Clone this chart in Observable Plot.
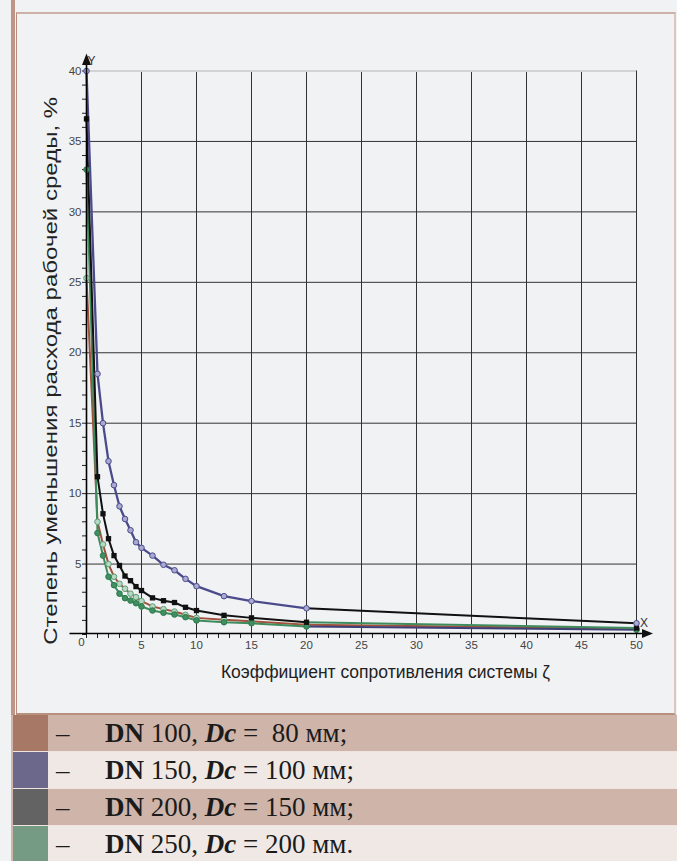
<!DOCTYPE html>
<html>
<head>
<meta charset="utf-8">
<script src="https://cdn.jsdelivr.net/npm/d3@7"></script>
<script src="https://cdn.jsdelivr.net/npm/@observablehq/plot@0.6"></script>
<style>
  html, body { margin: 0; padding: 0; }
  body { background: #f1f2f4; width: 677px; height: 861px; position: relative; overflow: hidden; }
  #bar { position: absolute; left: 11px; top: 0; width: 4px; height: 715px; background: #c09585; }
  #panel { position: absolute; left: 16px; top: 12px; width: 657px; height: 699px;
           border-left: 1px solid #b68b7b; border-top: 2px solid #cdb1a7;
           border-right: 2px solid #dcc5bd; border-bottom: 2px solid #b9917f; }
  #chart { position: absolute; left: 0; top: 0; }
  #legend { position: absolute; left: 11px; top: 715px; width: 666px;
            border-left: 2px solid #d2b6ab; box-sizing: border-box; }
  .row { height: 36px; display: flex; align-items: center; border-bottom: 1px solid #efe4e0;
         font-family: "Liberation Serif", "Times New Roman", serif; font-size: 27px; color: #1b1b1b; }
  .sw { width: 35px; height: 100%; flex: none; }
  .dash { width: 57px; padding-left: 8px; box-sizing: border-box; flex: none; }
  .txt { white-space: pre; }
</style>
</head>
<body>
<div id="bar"></div>
<div id="panel"></div>
<div id="chart"></div>
<div id="legend"></div>
<script>
// ---------------- data ----------------
const zeta  = [0, 1, 1.5, 2, 2.5, 3, 3.5, 4, 4.5, 5, 6, 7, 8, 9, 10, 12.5, 15, 20, 50];
const dn100 = [25.3, 8.0, 6.4, 5.0, 4.1, 3.6, 3.25, 2.9, 2.65, 2.37, 1.99, 1.8, 1.63, 1.4, 1.18, 1.05, 0.94, 0.7, 0.4];
const dn150 = [40.0, 18.5, 15.0, 12.3, 10.6, 9.1, 8.2, 7.4, 6.55, 6.15, 5.6, 4.95, 4.56, 3.95, 3.43, 2.72, 2.37, 1.86, 0.8];
const dn200 = [36.6, 11.2, 8.57, 6.8, 5.6, 4.9, 4.15, 3.82, 3.4, 3.12, 2.6, 2.4, 2.27, 1.93, 1.7, 1.36, 1.18, 0.87, 0.46];
const dn250 = [33.0, 7.2, 5.6, 4.1, 3.5, 2.9, 2.58, 2.41, 2.22, 1.99, 1.7, 1.54, 1.42, 1.23, 1.0, 0.87, 0.8, 0.57, 0.33];

const xTicks = [5, 10, 15, 20, 25, 30, 35, 40, 45, 50];
const yTicks = [5, 10, 15, 20, 25, 30, 35, 40];
const xMinor = d3.range(0, 51);
const yMinor = d3.range(0, 41);
const xTitle = "Коэффициент сопротивления системы ζ";
const yTitle = "Степень уменьшения расхода рабочей среды, %";

const legendDN = ["100", "150", "200", "250"];
const legendDc = ["\u00a080", "100", "150", "200"];
const legendEnd = [";", ";", ";", "."];

// ---------------- styles ----------------
const lineColor = {dn100: "#a2523c", dn150: "#4b4b8c", dn200: "#111111", dn250: "#3e8c5e"};
const tailColor = {dn100: "#a2523c", dn150: "#111111", dn200: "#3e8c5e", dn250: "#3f3f78"};
const swatch = ["#a87867", "#6c688c", "#636363", "#769b85"];
const rowBg = ["#cfb4aa", "#f0e8e5", "#cfb4aa", "#f0e8e5"];
const font = "Liberation Sans, Arial, sans-serif";

const pts = (key, vals) => zeta.map((x, i) => ({key, x, y: vals[i]}));
const S = {dn100: pts("dn100", dn100), dn150: pts("dn150", dn150), dn200: pts("dn200", dn200), dn250: pts("dn250", dn250)};
const head = p => p.filter(d => d.x <= 20);
const tail = p => p.filter(d => d.x >= 20);
const order = ["dn100", "dn250", "dn200", "dn150"];

const marks = [
  Plot.ruleX(xTicks, {x: d => d, y1: 0, y2: 40, stroke: "#333", strokeWidth: 1}),
  Plot.ruleY(yTicks.filter(d => d < 40), {y: d => d, x1: 0, x2: 50, stroke: "#333", strokeWidth: 1}),
  Plot.ruleY([40], {y: d => d, x1: 0, x2: 50, stroke: "#d3d3d3", strokeWidth: 2}),
  Plot.axisX(xMinor, {tickSize: 4, tickFormat: () => "", stroke: "#222"}),
  Plot.axisY(yMinor, {tickSize: 4, tickFormat: () => "", stroke: "#222"}),
  Plot.axisX(xTicks, {tickSize: 0, tickPadding: 6, fontSize: 11.5, fill: "#444", fontFamily: font}),
  Plot.axisY(yTicks, {tickSize: 0, tickPadding: 5, fontSize: 11.5, fill: "#444", fontFamily: font}),
  Plot.text([0], {x: d => d, y: 0, text: d => String(d), dx: -5, dy: 8, fontSize: 11.5, fill: "#444", fontFamily: font}),
  Plot.text([xTitle], {frameAnchor: "bottom", text: d => d, textAnchor: "middle", dx: 24, dy: 43, fontSize: 17.5, fill: "#222", fontFamily: font}),
  Plot.text([yTitle], {frameAnchor: "left", text: d => d, textAnchor: "middle", rotate: -90, dx: -35, dy: 18, fontSize: 18, fill: "#222", fontFamily: font, className: "ytitle"})
];
for (const k of order) {
  marks.push(Plot.line(tail(S[k]), {x: "x", y: "y", stroke: tailColor[k], strokeWidth: 2}));
}
for (const k of order) {
  marks.push(Plot.line(head(S[k]), {x: "x", y: "y", stroke: lineColor[k], strokeWidth: k === "dn150" ? 2.3 : 2}));
}
marks.push(Plot.dot(S.dn100, {x: "x", y: "y", r: 2.8, fill: "#b7d8c3", stroke: "#5f9c77", strokeWidth: 1}));
marks.push(Plot.dot(S.dn250, {x: "x", y: "y", r: 2.8, fill: "#3f8f60", stroke: "#2d7a4e", strokeWidth: 1}));
marks.push(Plot.dot(S.dn200, {x: "x", y: "y", r: 3, symbol: "square", fill: "#111"}));
marks.push(Plot.dot(S.dn150, {x: "x", y: "y", r: 2.8, fill: "#a9a9d2", stroke: "#4b4b8c", strokeWidth: 1}));

const chart = Plot.plot({
  width: 677, height: 713,
  marginLeft: 86, marginRight: 41, marginTop: 70.5, marginBottom: 79,
  x: {domain: [0, 50], label: null},
  y: {domain: [0, 40], label: null},
  style: {background: "transparent", overflow: "visible"},
  marks
});

// stretch the vertical title along the axis as in the reference
d3.select(chart).selectAll("text").filter(function() { return this.textContent === yTitle; })
  .attr("textLength", 548).attr("lengthAdjust", "spacingAndGlyphs");

// axis lines with arrows, drawn through the plot's own scales
const sx = chart.scale("x"), sy = chart.scale("y");
const X0 = sx.apply(0) + 0.5, X50 = sx.apply(50), Y0 = sy.apply(0) - 0.5, Y40 = sy.apply(40);
const svg = d3.select(chart);
const g = svg.append("g");
g.append("line").attr("x1", X0 - 17).attr("x2", X50 + 8).attr("y1", Y0).attr("y2", Y0).attr("stroke", "#000").attr("stroke-width", 1.6);
g.append("line").attr("x1", X0).attr("x2", X0).attr("y1", Y0).attr("y2", Y40 - 8).attr("stroke", "#000").attr("stroke-width", 1.6);
g.append("path").attr("d", `M${X0},${Y40 - 17}L${X0 - 4.5},${Y40 - 5.5}L${X0 + 4.5},${Y40 - 5.5}Z`).attr("fill", "#111");
g.append("path").attr("d", `M${X50 + 17},${Y0}L${X50 + 6},${Y0 - 4.5}L${X50 + 6},${Y0 + 4.5}Z`).attr("fill", "#111");
g.append("text").attr("x", X0 + 5).attr("y", Y40 - 10).attr("dy", "0.35em").text("Y")
  .attr("font-family", font).attr("font-size", 12).attr("fill", "#333");
g.append("text").attr("x", X50 + 8).attr("y", Y0 - 11).attr("dy", "0.35em").text("X")
  .attr("font-family", font).attr("font-size", 12).attr("fill", "#333");

document.getElementById("chart").appendChild(chart);

// legend
const leg = document.getElementById("legend");
legendDN.forEach((dn, i) => {
  const row = document.createElement("div");
  row.className = "row";
  row.style.background = rowBg[i];
  row.innerHTML = `<div class="sw" style="background:${swatch[i]}"></div>` +
    `<div class="dash">–</div>` +
    `<div class="txt"><b>DN</b> ${dn}, <b><i>Dc</i></b> = ${legendDc[i]} мм${legendEnd[i]}</div>`;
  leg.appendChild(row);
});
</script>
</body>
</html>
